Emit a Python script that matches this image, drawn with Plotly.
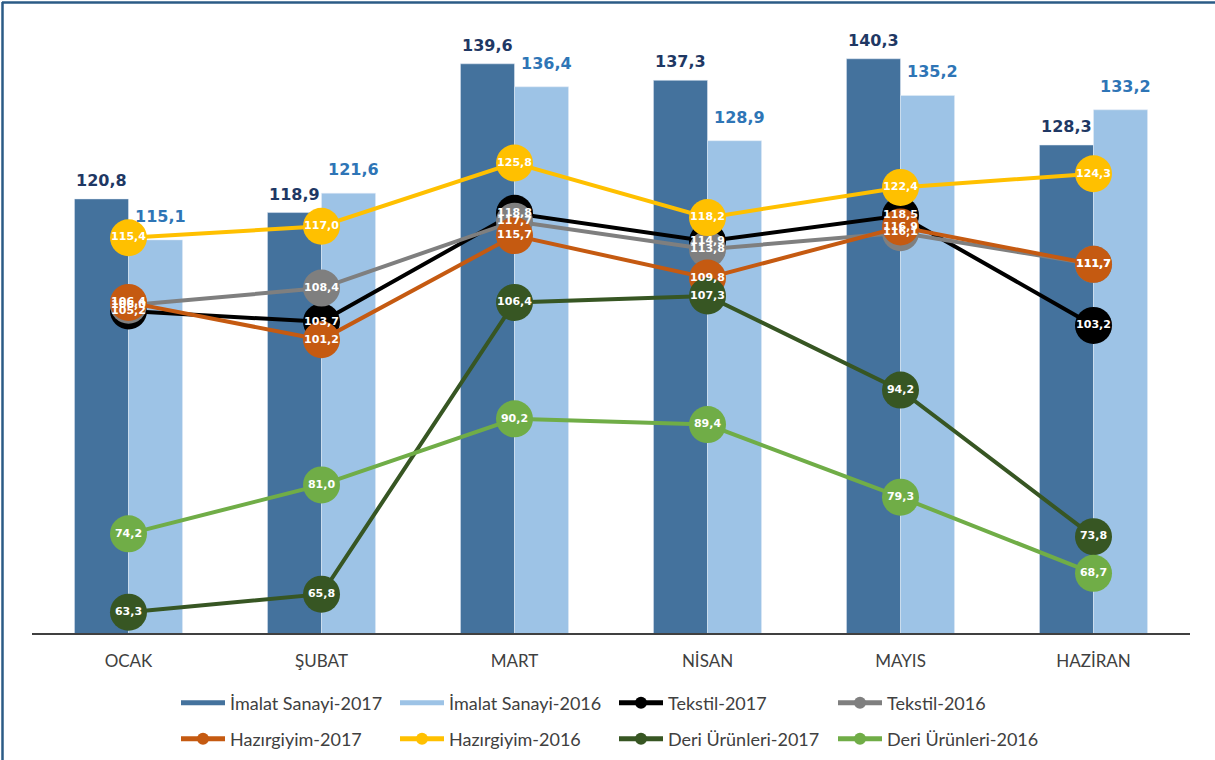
import plotly.graph_objects as go

months = ["OCAK", "ŞUBAT", "MART", "NİSAN", "MAYIS", "HAZİRAN"]
imalat_2017 = [120.8, 118.9, 139.6, 137.3, 140.3, 128.3]
imalat_2016 = [115.1, 121.6, 136.4, 128.9, 135.2, 133.2]
tekstil_2017 = [105.2, 103.7, 118.8, 114.9, 118.5, 103.2]
tekstil_2016 = [106.0, 108.4, 117.7, 113.8, 116.1, 111.7]
hazir_2017 = [106.4, 101.2, 115.7, 109.8, 116.9, 111.7]
hazir_2016 = [115.4, 117.0, 125.8, 118.2, 122.4, 124.3]
deri_2017 = [63.3, 65.8, 106.4, 107.3, 94.2, 73.8]
deri_2016 = [74.2, 81.0, 90.2, 89.4, 79.3, 68.7]

FONT = "Lato"
LABEL_FONT = "DejaVu Sans"
TXT = "#404040"
C17, C16 = "#44729D", "#9DC3E6"

fig = go.Figure()

fig.add_trace(go.Bar(x=months, y=imalat_2017, name="İmalat Sanayi-2017",
                     marker_color=C17, showlegend=False, hoverinfo="x+y"))
fig.add_trace(go.Bar(x=months, y=imalat_2016, name="İmalat Sanayi-2016",
                     marker_color=C16, showlegend=False, hoverinfo="x+y"))

# legend entries for the bar series (wide rectangle symbol)
for name, col in [("İmalat Sanayi-2017", C17), ("İmalat Sanayi-2016", C16)]:
    fig.add_trace(go.Scatter(x=[months[0]], y=[None], mode="lines", name=name,
                             line=dict(color=col, width=10), legend="legend",
                             hoverinfo="skip"))

lines = [
    ("Tekstil-2017", tekstil_2017, "#000000", "legend"),
    ("Tekstil-2016", tekstil_2016, "#7F7F7F", "legend"),
    ("Hazırgiyim-2017", hazir_2017, "#C55A11", "legend2"),
    ("Hazırgiyim-2016", hazir_2016, "#FFC000", "legend2"),
    ("Deri Ürünleri-2017", deri_2017, "#375623", "legend2"),
    ("Deri Ürünleri-2016", deri_2016, "#70AD47", "legend2"),
]

for name, vals, col, lg in lines:
    fig.add_trace(go.Scatter(
        x=months, y=vals, name=name, mode="lines+markers",
        line=dict(color=col, width=4),
        marker=dict(color=col, size=37),
        cliponaxis=False, legend=lg))

# point labels drawn on top of all markers
for name, vals, col, lg in lines:
    fig.add_trace(go.Scatter(
        x=months, y=vals, mode="text", texttemplate="%{y:.1f}",
        textposition="middle center",
        textfont=dict(color="white", size=11, family=LABEL_FONT, weight="bold"),
        showlegend=False, hoverinfo="skip", cliponaxis=False))

def fmt(v):
    return f"{v:.1f}".replace(".", ",")

annotations = []
for m, v in zip(months, imalat_2017):
    annotations.append(dict(x=m, y=v, xref="x", yref="y", text=fmt(v),
                            showarrow=False, xshift=-27, yshift=7, yanchor="bottom",
                            font=dict(size=16, color="#1F3864", family=LABEL_FONT, weight="bold")))
for m, v in zip(months, imalat_2016):
    annotations.append(dict(x=m, y=v, xref="x", yref="y", text=fmt(v),
                            showarrow=False, xshift=32, yshift=12, yanchor="bottom",
                            font=dict(size=16, color="#2E75B6", family=LABEL_FONT, weight="bold")))

W, H = 1215, 760
ml, mr, mt, mb = 32, 25, 25, 127
pw, ph = W - ml - mr, H - mt - mb

def px(x):
    return (x - ml) / pw

def py(y):
    return (H - mb - y) / ph

legend_common = dict(
    orientation="h", xanchor="left", yanchor="middle",
    font=dict(size=18, color=TXT, family=FONT),
    entrywidth=160, entrywidthmode="pixels", itemsizing="constant",
    bgcolor="rgba(0,0,0,0)", itemwidth=44)

fig.update_layout(
    width=W, height=H,
    margin=dict(l=ml, r=mr, t=mt, b=mb, autoexpand=False),
    paper_bgcolor="white", plot_bgcolor="white",
    separators=",.",
    barmode="group", bargap=0.44, bargroupgap=0,
    font=dict(family=FONT, color=TXT),
    legend=dict(x=px(176), y=py(703), **legend_common),
    legend2=dict(x=px(176), y=py(739), **legend_common),
    xaxis=dict(type="category", categoryorder="array", categoryarray=months,
               showgrid=False, showline=True, linecolor="#404040", linewidth=2,
               ticks="", ticklabelstandoff=12,
               tickfont=dict(size=17, color=TXT, family=FONT)),
    yaxis=dict(range=[60.4, 145], visible=False, showgrid=False),
    annotations=annotations,
    shapes=[
        dict(type="line", xref="paper", yref="paper",
             x0=px(2), x1=px(1215), y0=py(2.5), y1=py(2.5),
             line=dict(color="#2B5B86", width=2.5)),
        dict(type="line", xref="paper", yref="paper",
             x0=px(2.5), x1=px(2.5), y0=py(2), y1=py(760),
             line=dict(color="#2B5B86", width=2.5)),
    ],
)

fig.write_html("out.html", config={"displayModeBar": False},
               post_script="document.body.style.margin='0';")
